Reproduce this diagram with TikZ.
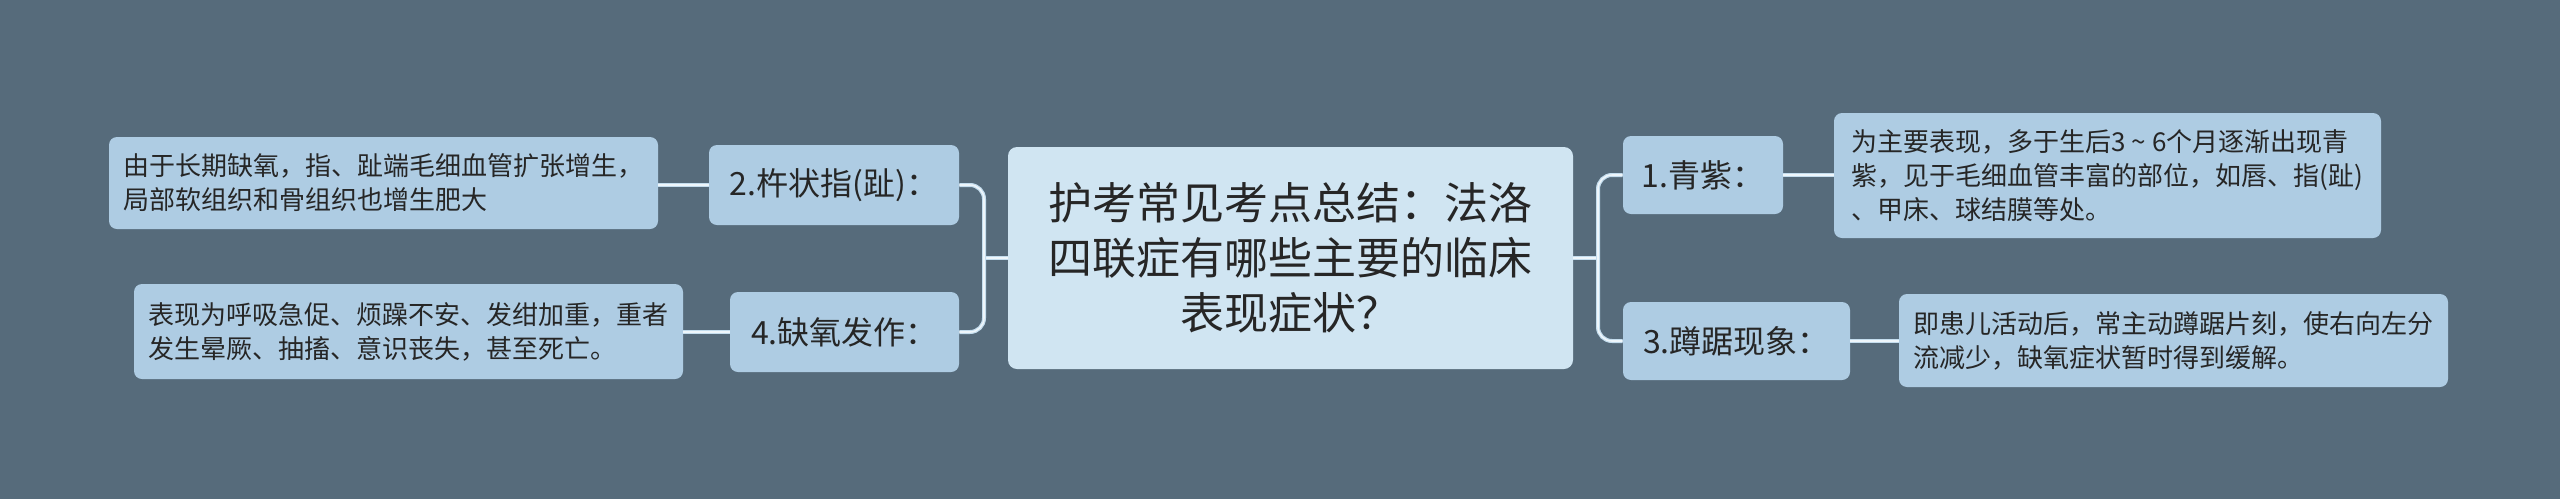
\documentclass[tikz,border=0pt]{standalone}
\usepackage{fontspec}
\setmainfont{Noto Sans CJK SC}
\definecolor{bg}{HTML}{566B7B}
\definecolor{leaf}{HTML}{AECCE3}
\definecolor{rootc}{HTML}{D0E5F2}
\definecolor{linec}{HTML}{C4DDEE}
\definecolor{lineh}{HTML}{EEF6FB}
\definecolor{txt}{HTML}{262626}
\begin{document}
\begin{tikzpicture}[x=0.5pt,y=-0.5pt,
  box/.style={rounded corners=4pt, fill=leaf, text=txt, inner sep=0pt, align=left},
  rootbox/.style={rounded corners=4.5pt, fill=rootc, text=txt, inner sep=0pt, align=center,
    font=\fontsize{22}{27.5}\selectfont},
  branch/.style={box, font=\fontsize{16}{19}\selectfont},
  leafbox/.style={box, font=\fontsize{13}{17}\selectfont},
  conn/.style={draw=linec, line width=2pt, rounded corners=7pt,
    postaction={draw=lineh, line width=0.8pt}}]
\useasboundingbox[fill=bg] (0,0) rectangle (2560,499);
% root
\node[rootbox, minimum width=282.5pt, minimum height=111pt] (root) at (1290.5,258)
  {护考常见考点总结：法洛\\四联症有哪些主要的临床\\表现症状？};
% left branches
\node[branch, minimum width=125pt, minimum height=40pt] (b2) at (834,185) {2.杵状指(趾)：};
\node[branch, minimum width=114.5pt, minimum height=40pt] (b4) at (844.5,332) {4.缺氧发作：};
% right branches
\node[branch, minimum width=80pt, minimum height=39pt] (b1) at (1703,175) {1.青紫：};
\node[branch, minimum width=113.5pt, minimum height=39pt] (b3) at (1736.5,341) {3.蹲踞现象：};
% leaves
\node[leafbox, minimum width=274.5pt, minimum height=46pt] (l1) at (383.5,183)
  {由于长期缺氧，指、趾端毛细血管扩张增生，\\局部软组织和骨组织也增生肥大};
\node[leafbox, minimum width=274.5pt, minimum height=47.5pt] (l2) at (408.5,331.5)
  {表现为呼吸急促、烦躁不安、发绀加重，重者\\发生晕厥、抽搐、意识丧失，甚至死亡。};
\node[leafbox, minimum width=273.5pt, minimum height=62.5pt] (r1) at (2107.5,175.5)
  {为主要表现，多于生后3 \textasciitilde{} 6个月逐渐出现青\\紫，见于毛细血管丰富的部位，如唇、指(趾)\\、甲床、球结膜等处。};
\node[leafbox, minimum width=274.5pt, minimum height=46.5pt] (r2) at (2173.5,340.5)
  {即患儿活动后，常主动蹲踞片刻，使右向左分\\流减少，缺氧症状暂时得到缓解。};
% junctions
\coordinate (lj) at (984,258);
\coordinate (rj) at (1598,258);
% connectors
\draw[conn] (root.west) -- (lj);
\draw[conn] (b2.east) -| (lj) |- (b4.east);
\draw[conn] (root.east) -- (rj);
\draw[conn] (b1.west) -| (rj) |- (b3.west);
\draw[conn] (b2.west) -- (l1.east |- b2.west);
\draw[conn] (b4.west) -- (l2.east |- b4.west);
\draw[conn] (b1.east) -- (r1.west |- b1.east);
\draw[conn] (b3.east) -- (r2.west |- b3.east);
\end{tikzpicture}
\end{document}
